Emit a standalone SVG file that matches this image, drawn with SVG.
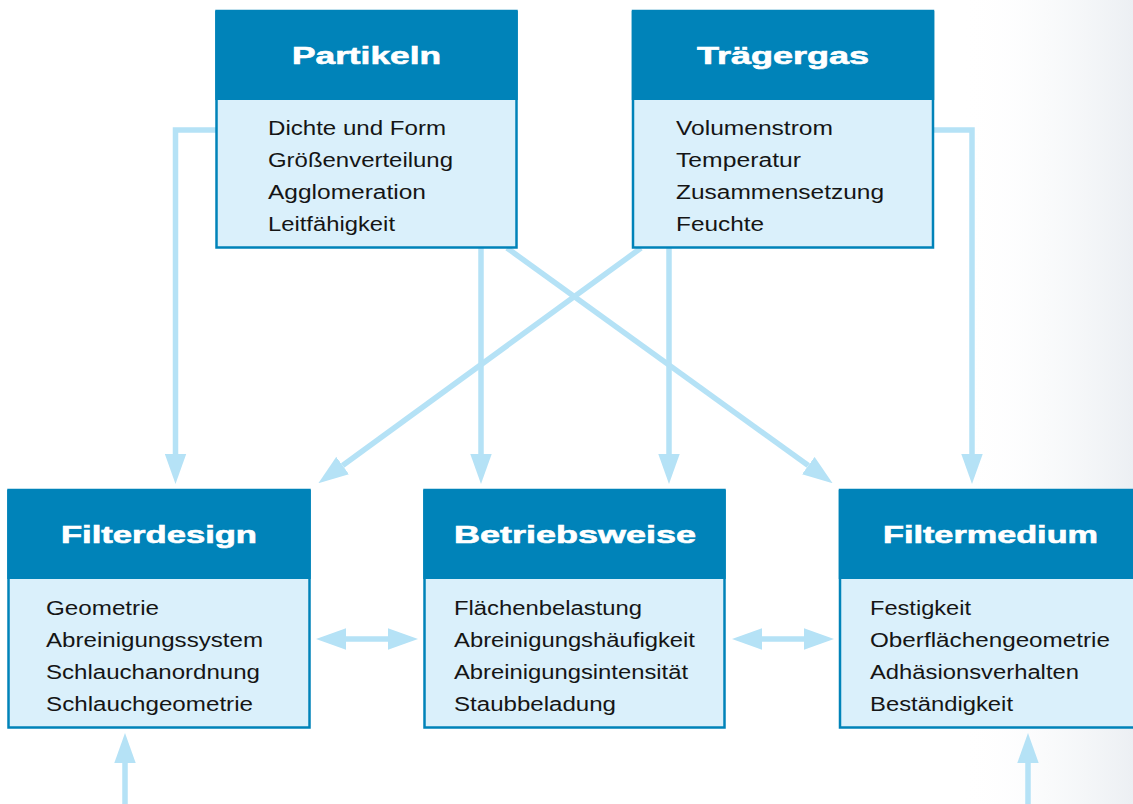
<svg xmlns="http://www.w3.org/2000/svg" width="1133" height="804" viewBox="0 0 1133 804">
<defs>
<linearGradient id="bg" x1="0" y1="0" x2="1" y2="0">
<stop offset="0" stop-color="#ffffff" stop-opacity="0"/>
<stop offset="0.6" stop-color="#f4f6f8" stop-opacity="0.7"/>
<stop offset="1" stop-color="#eceff3" stop-opacity="1"/>
</linearGradient>
<marker id="ah" markerUnits="userSpaceOnUse" markerWidth="30" markerHeight="22" refX="0" refY="10" orient="auto-start-reverse" viewBox="0 0 28 20">
<path d="M0,0 L28,10 L0,20 Z" fill="#b5e2f6"/>
</marker>
</defs>
<style>
.body{fill:#daf0fb;stroke:#0083b9;stroke-width:2.5}
.head{fill:#0083b9}
.title{font-family:"Liberation Sans",Arial,sans-serif;font-weight:bold;font-size:23px;fill:#ffffff;stroke:#ffffff;stroke-width:0.6}
.item{font-family:"Liberation Sans",Arial,sans-serif;font-size:20px;fill:#151515}
.conn{fill:none;stroke:#b5e2f6;stroke-width:5.5}
</style>
<rect x="0" y="0" width="1133" height="804" fill="#ffffff"/>
<rect x="960" y="0" width="173" height="804" fill="url(#bg)"/>

<g id="connectors">
<path class="conn" d="M216,130 H175.5 V454" marker-end="url(#ah)"/>
<path class="conn" d="M934,130 H972 V454" marker-end="url(#ah)"/>
<path class="conn" d="M481,248 V454" marker-end="url(#ah)"/>
<path class="conn" d="M669,248 V454" marker-end="url(#ah)"/>
<path class="conn" d="M507,248 L808.3,465.6" marker-end="url(#ah)"/>
<path class="conn" d="M641,248 L342.6,465.5" marker-end="url(#ah)"/>
<path class="conn" d="M346,639 H388" marker-start="url(#ah)" marker-end="url(#ah)"/>
<path class="conn" d="M762,639 H804" marker-start="url(#ah)" marker-end="url(#ah)"/>
<path class="conn" d="M125,804 V763" marker-end="url(#ah)"/>
<path class="conn" d="M1028,804 V763" marker-end="url(#ah)"/>
</g>

<g id="partikeln">
<rect class="body" x="216.5" y="11" width="300" height="236.5"/>
<rect class="head" x="215.25" y="11" width="302.5" height="89"/>
<text class="title" x="292" y="64" textLength="149" lengthAdjust="spacingAndGlyphs">Partikeln</text>
<text class="item" x="268" y="135" textLength="178" lengthAdjust="spacingAndGlyphs">Dichte und Form</text>
<text class="item" x="268" y="167" textLength="185" lengthAdjust="spacingAndGlyphs">Größenverteilung</text>
<text class="item" x="268" y="199" textLength="158" lengthAdjust="spacingAndGlyphs">Agglomeration</text>
<text class="item" x="268" y="231" textLength="127" lengthAdjust="spacingAndGlyphs">Leitfähigkeit</text>
</g>

<g id="traegergas">
<rect class="body" x="633" y="11" width="300" height="236.5"/>
<rect class="head" x="631.75" y="11" width="302.5" height="89"/>
<text class="title" x="697" y="64" textLength="172" lengthAdjust="spacingAndGlyphs">Trägergas</text>
<text class="item" x="676" y="135" textLength="157" lengthAdjust="spacingAndGlyphs">Volumenstrom</text>
<text class="item" x="676" y="167" textLength="125" lengthAdjust="spacingAndGlyphs">Temperatur</text>
<text class="item" x="676" y="199" textLength="208" lengthAdjust="spacingAndGlyphs">Zusammensetzung</text>
<text class="item" x="676" y="231" textLength="88" lengthAdjust="spacingAndGlyphs">Feuchte</text>
</g>

<g id="filterdesign">
<rect class="body" x="8.5" y="490" width="301" height="237.5"/>
<rect class="head" x="7.25" y="490" width="303.5" height="89"/>
<text class="title" x="61" y="543" textLength="196" lengthAdjust="spacingAndGlyphs">Filterdesign</text>
<text class="item" x="46" y="615" textLength="113" lengthAdjust="spacingAndGlyphs">Geometrie</text>
<text class="item" x="46" y="647" textLength="217" lengthAdjust="spacingAndGlyphs">Abreinigungssystem</text>
<text class="item" x="46" y="679" textLength="214" lengthAdjust="spacingAndGlyphs">Schlauchanordnung</text>
<text class="item" x="46" y="711" textLength="207" lengthAdjust="spacingAndGlyphs">Schlauchgeometrie</text>
</g>

<g id="betriebsweise">
<rect class="body" x="424.5" y="490" width="300" height="237.5"/>
<rect class="head" x="423.25" y="490" width="302.5" height="89"/>
<text class="title" x="454" y="543" textLength="242" lengthAdjust="spacingAndGlyphs">Betriebsweise</text>
<text class="item" x="454" y="615" textLength="188" lengthAdjust="spacingAndGlyphs">Flächenbelastung</text>
<text class="item" x="454" y="647" textLength="241" lengthAdjust="spacingAndGlyphs">Abreinigungshäufigkeit</text>
<text class="item" x="454" y="679" textLength="234" lengthAdjust="spacingAndGlyphs">Abreinigungsintensität</text>
<text class="item" x="454" y="711" textLength="162" lengthAdjust="spacingAndGlyphs">Staubbeladung</text>
</g>

<g id="filtermedium">
<rect class="body" x="840" y="490" width="305" height="237.5"/>
<rect class="head" x="838.75" y="490" width="307.5" height="89"/>
<text class="title" x="883" y="543" textLength="215" lengthAdjust="spacingAndGlyphs">Filtermedium</text>
<text class="item" x="870" y="615" textLength="101" lengthAdjust="spacingAndGlyphs">Festigkeit</text>
<text class="item" x="870" y="647" textLength="240" lengthAdjust="spacingAndGlyphs">Oberflächengeometrie</text>
<text class="item" x="870" y="679" textLength="209" lengthAdjust="spacingAndGlyphs">Adhäsionsverhalten</text>
<text class="item" x="870" y="711" textLength="143" lengthAdjust="spacingAndGlyphs">Beständigkeit</text>
</g>
</svg>
